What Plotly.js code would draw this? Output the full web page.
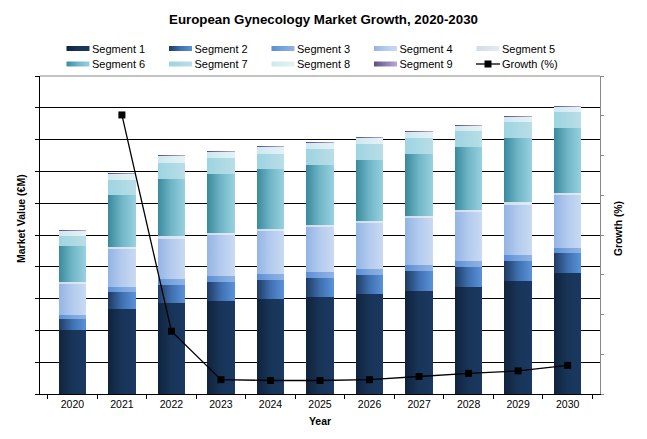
<!DOCTYPE html>
<html><head><meta charset="utf-8">
<script src="https://cdn.plot.ly/plotly-3.0.1.min.js"></script>
<style>html,body{margin:0;padding:0;background:#fff}</style>
</head><body><div id="chart" style="width:647px;height:439px"></div>
<script>
const years = ['2020','2021','2022','2023','2024','2025','2026','2027','2028','2029','2030'];
const segNames = ['Segment 1','Segment 2','Segment 3','Segment 4','Segment 5','Segment 6','Segment 7','Segment 8','Segment 9'];
const seg1 = [20.1, 26.7, 28.6, 29.2, 29.9, 30.5, 31.4, 32.4, 33.6, 35.5, 38.1];
const seg2 = [3.5, 5.4, 5.7, 6.0, 5.9, 6.0, 6.0, 6.3, 6.3, 6.3, 6.2];
const seg3 = [1.2, 1.5, 1.9, 1.9, 1.9, 1.9, 1.9, 1.9, 1.9, 1.9, 1.6];
const seg4 = [9.9, 12.0, 12.5, 12.9, 13.6, 14.1, 14.5, 14.7, 15.4, 15.7, 16.7];
const seg5 = [0.5, 0.6, 1.0, 0.6, 0.6, 0.6, 0.6, 0.7, 0.7, 1.0, 0.6];
const seg6 = [11.3, 16.4, 17.9, 18.6, 18.9, 18.9, 19.2, 19.5, 19.8, 20.1, 20.4];
const seg7 = [3.2, 4.7, 5.0, 5.0, 4.7, 5.0, 5.0, 5.0, 5.0, 5.0, 5.1];
const seg8 = [1.6, 1.9, 2.2, 1.9, 2.2, 1.9, 1.9, 1.9, 1.6, 1.6, 1.6];
const seg9 = [0.3, 0.3, 0.4, 0.3, 0.3, 0.3, 0.3, 0.3, 0.3, 0.3, 0.3];
const growth = [null, 35.1, 7.9, 1.8, 1.7, 1.7, 1.8, 2.2, 2.6, 2.9, 3.6];
const growthName = 'Growth (%)';
const yTitle = 'Market Value (€M)';
const y2Title = 'Growth (%)';
const xTitle = 'Year';

const segValues = [seg1, seg2, seg3, seg4, seg5, seg6, seg7, seg8, seg9];
// gradient stops (left -> right)
const segGrad = [
  ['#10233d','#183558','#1a3861'],
  ['#1f3b64','#3f70b0','#5a92da'],
  ['#5a8dd5','#7aa4de','#90b3e3'],
  ['#94b4e4','#b3cbee','#c9daf2'],
  ['#cfdbed','#dae3f1','#e4ebf5'],
  ['#3a8a9d','#70b6c7','#98d1df'],
  ['#9dd4e1','#abd9e4','#badee7'],
  ['#cde8ef','#d9eef3','#e4f2f6'],
  ['#5e4e83','#8a7cb0','#b7aad4']
];
const FONT = '"Liberation Sans", Arial, sans-serif';

const traces = segValues.map((v, i) => ({
  type: 'bar', x: years, y: v, name: segNames[i],
  marker: {color: segGrad[i][1], line: {width: 0}},
  hoverinfo: 'skip'
}));
traces.push({
  type: 'scatter', mode: 'lines+markers', x: years, y: growth, name: growthName,
  yaxis: 'y2', line: {color: '#000', width: 1.3},
  marker: {symbol: 'square', size: 7, color: '#000'},
  connectgaps: false, hoverinfo: 'skip'
});

const layout = {
  width: 647, height: 439,
  margin: {l: 40, r: 47, t: 76, b: 45, autoexpand: false},
  paper_bgcolor: '#fff', plot_bgcolor: '#fff',
  font: {family: FONT, size: 11, color: '#000'},
  barmode: 'stack', bargap: 0.45,
  showlegend: true,
  title: {text: '<b>European Gynecology Market Growth, 2020-2030</b>', font: {family: FONT, size: 13.3, color: '#000'},
          x: 0.5, xanchor: 'center', y: 1 - 19/439, yanchor: 'middle', yref: 'container'},
  legend: {orientation: 'h', x: 12/560, xanchor: 'left', y: 1 - 34/439, yanchor: 'top', yref: 'container',
           traceorder: 'normal', entrywidth: 57.5, entrywidthmode: 'pixels',
           font: {family: FONT, size: 11, color: '#000'}, bgcolor: 'rgba(0,0,0,0)'},
  xaxis: {type: 'category', tickson: 'boundaries', ticks: 'outside', ticklen: 4, tickcolor: '#000',
          showline: true, linecolor: '#000', linewidth: 1, showgrid: false,
          tickfont: {family: FONT, size: 10.5, color: '#000'},
          title: {text: '<b>' + xTitle + '</b>', font: {family: FONT, size: 10.5}, standoff: 9}},
  yaxis: {range: [0, 100], dtick: 10, tick0: 0, showticklabels: false, ticks: 'outside', ticklen: 4,
          tickcolor: '#000', showline: true, linecolor: '#000', linewidth: 1,
          showgrid: true, gridcolor: '#000', gridwidth: 1, zeroline: false},
  yaxis2: {overlaying: 'y', side: 'right', range: [0, 40], dtick: 5, tick0: 0, showticklabels: false,
           ticks: 'outside', ticklen: 3, tickcolor: '#888', showline: true, linecolor: '#888', linewidth: 1,
           showgrid: false, zeroline: false},
  annotations: [
    {text: '<b>' + yTitle + '</b>', xref: 'paper', yref: 'paper', x: (21 - 40) / 560, y: (394 - 219) / 318,
     xanchor: 'center', yanchor: 'middle', textangle: -90, showarrow: false, font: {family: FONT, size: 10.5}},
    {text: '<b>' + y2Title + '</b>', xref: 'paper', yref: 'paper', x: (618 - 40) / 560, y: (394 - 229) / 318,
     xanchor: 'center', yanchor: 'middle', textangle: -90, showarrow: false, font: {family: FONT, size: 10.3}}
  ],
  shapes: [{type: 'line', xref: 'paper', yref: 'paper', x0: 0, x1: 1, y0: 1, y1: 1,
            line: {color: '#888', width: 1}}]
};

function addGradients(gd) {
  const svg = gd.querySelector('svg.main-svg');
  const NS = 'http://www.w3.org/2000/svg';
  let defs = svg.querySelector('defs');
  if (!defs) { defs = document.createElementNS(NS, 'defs'); svg.insertBefore(defs, svg.firstChild); }
  segGrad.forEach((stops, i) => {
    const g = document.createElementNS(NS, 'linearGradient');
    g.setAttribute('id', 'segGrad' + i);
    g.setAttribute('x1', '0'); g.setAttribute('x2', '1'); g.setAttribute('y1', '0'); g.setAttribute('y2', '0');
    stops.forEach((c, k) => {
      const s = document.createElementNS(NS, 'stop');
      s.setAttribute('offset', (k / (stops.length - 1)).toString());
      s.setAttribute('stop-color', c);
      g.appendChild(s);
    });
    defs.appendChild(g);
  });
  const barTraces = gd.querySelectorAll('.barlayer .trace.bars');
  barTraces.forEach((t, i) => {
    if (i >= segGrad.length) return;
    t.querySelectorAll('path').forEach(p => { p.style.fill = 'url(#segGrad' + i + ')'; });
  });
  const legTraces = Array.from(gd.querySelectorAll('.legend .traces'));
  // compress row spacing of the legend to match the reference
  const parsed = legTraces.map(t => {
    const m = /translate\(\s*([-\d.e]+)[ ,]+([-\d.e]+)\s*\)/.exec(t.getAttribute('transform') || '');
    return m ? [parseFloat(m[1]), parseFloat(m[2])] : null;
  });
  const ys = parsed.filter(Boolean).map(p => p[1]);
  if (ys.length) {
    const y0 = Math.min.apply(null, ys);
    const uniq = Array.from(new Set(ys)).sort((a, b) => a - b);
    const gap = uniq.length > 1 ? uniq[1] - uniq[0] : 0;
    legTraces.forEach((t, i) => {
      if (!parsed[i] || !gap) return;
      const ny = y0 + (parsed[i][1] - y0) * 15.5 / gap;
      t.setAttribute('transform', 'translate(' + parsed[i][0] + ',' + ny + ')');
    });
  }
  legTraces.forEach((t, i) => {
    const text = t.querySelector('text.legendtext');
    if (!text) return;
    if (i < segGrad.length) {
      const p = t.querySelector('path.legendbar') || t.querySelector('.legendpoints path');
      if (!p) return;
      p.setAttribute('d', 'M-11.5,-2.5h23v5h-23Z');
      p.style.fill = 'url(#segGrad' + i + ')';
      p.style.stroke = 'none';
      const tr = text.getBoundingClientRect();
      const pr = p.getBoundingClientRect();
      const dx = (tr.left - 2.5 - 23) - pr.left;
      const old = p.getAttribute('transform') || '';
      p.setAttribute('transform', old + ' translate(' + dx + ',0)');
    } else {
      // growth line entry: short line with centred square, close to the text
      const tx = parseFloat(text.getAttribute('x')) || 40;
      const line = t.querySelector('.legendlines path');
      if (line) line.setAttribute('d', 'M' + (tx - 26) + ',0h24');
      const pt = t.querySelector('.legendpoints path');
      if (pt) pt.setAttribute('transform', 'translate(' + (tx - 14) + ',0)');
    }
  });
}

Plotly.newPlot('chart', traces, layout, {staticPlot: true}).then(gd => { addGradients(gd); });
</script></body></html>
